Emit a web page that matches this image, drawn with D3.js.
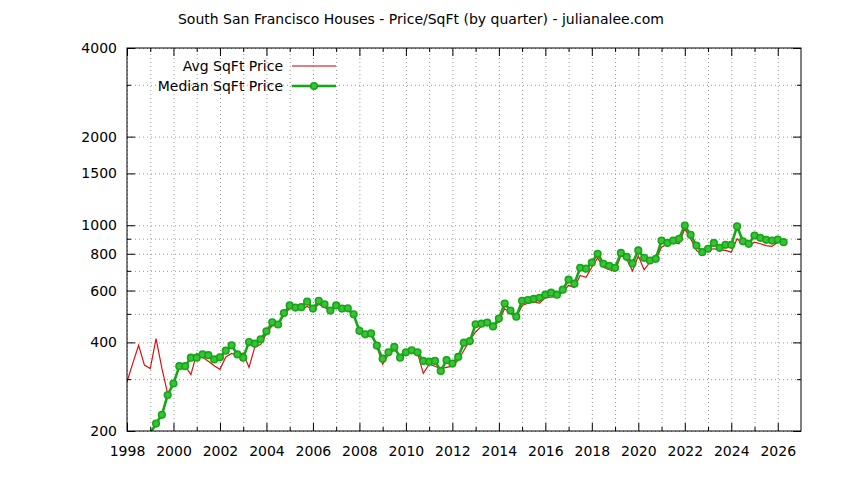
<!DOCTYPE html>
<html>
<head>
<meta charset="utf-8">
<script src="https://cdn.jsdelivr.net/npm/d3@7"></script>
<style>
  body { margin: 0; background: #fff; }
  text { font-family: "DejaVu Sans", sans-serif; font-size: 14px; fill: #000; }
</style>
</head>
<body>
<div id="chart"></div>
<script>
// chart size
var svgWidth = 844;
var svgHeight = 480;

// plot box (gnuplot style frame)
var plot = { left: 127, right: 801, top: 48, bottom: 431 };

// Data: quarterly price per sqft
var avgStartYear = 1998;
var avgPrice = [
  294, 340, 391, 335,
  326, 412, 327, 268,
  290, 331, 333, 311,
  367, 356, 345, 333,
  324, 357, 367, 362,
  368, 329, 386, 393,
  429, 457, 454, 498,
  521, 521, 518, 530,
  517, 539, 527, 511,
  527, 518, 514, 494,
  436, 429, 426, 388,
  337, 365, 376, 362,
  371, 376, 368, 314,
  337, 332, 326, 329,
  332, 348, 376, 407,
  434, 454, 461, 454,
  470, 521, 502, 486,
  534, 543, 548, 544,
  567, 570, 573, 593,
  625, 614, 675, 666,
  720, 775, 720, 706,
  698, 789, 768, 699,
  787, 706, 749, 763,
  842, 865, 876, 865,
  972, 899, 821, 795,
  825, 832, 825, 821,
  810, 899, 865, 853,
  876, 865, 853, 847,
  876, 871
];

var medianStartYear = 1999;
var medianPrice = [
  196, 212, 227, 265,
  290, 332, 332, 355,
  355, 364, 362, 350,
  356, 375, 391, 364,
  355, 401, 396, 410,
  436, 468, 460, 503,
  534, 525, 527, 550,
  521, 554, 539, 513,
  534, 521, 522, 498,
  438, 426, 429, 390,
  352, 370, 386, 355,
  370, 376, 370, 346,
  344, 346, 320, 348,
  339, 357, 399, 404,
  461, 463, 467, 453,
  482, 542, 513, 489,
  554, 557, 562, 567,
  581, 590, 581, 604,
  653, 633, 717, 712,
  747, 800, 740, 728,
  717, 805, 781, 742,
  821, 775, 759, 769,
  887, 871, 887, 899,
  997, 928, 853, 810,
  832, 871, 838, 858,
  858, 992, 882, 865,
  923, 906, 892, 887,
  894, 876
];

// tick values
var xTicksMajor = [1998, 2000, 2002, 2004, 2006, 2008, 2010, 2012, 2014, 2016, 2018, 2020, 2022, 2024, 2026];
var xTicksMinor = [1999, 2001, 2003, 2005, 2007, 2009, 2011, 2013, 2015, 2017, 2019, 2021, 2023, 2025];
var yTicksMajor = [200, 400, 600, 800, 1000, 1500, 2000, 4000];
var yTicksMinor = [300, 500, 700, 900, 3000];

var titleText = "South San Francisco Houses - Price/SqFt (by quarter) - julianalee.com";
var seriesNames = ["Avg SqFt Price", "Median SqFt Price"];

// build point lists (one point per quarter)
var avgData = avgPrice.map(function (v, i) { return { t: avgStartYear + i / 4, v: v }; });
var medianData = medianPrice.map(function (v, i) { return { t: medianStartYear + i / 4, v: v }; });

var svg = d3.select("#chart").append("svg")
  .attr("width", svgWidth)
  .attr("height", svgHeight);

// scales
var x = d3.scaleLinear().domain([1998, 2027]).range([plot.left, plot.right]);
var y = d3.scaleLog().domain([200, 4000]).range([plot.bottom, plot.top]);

var plotW = plot.right - plot.left;
var plotH = plot.bottom - plot.top;

// grid (dotted)
var allX = xTicksMajor.concat(xTicksMinor);
var allY = yTicksMajor.concat(yTicksMinor);

svg.append("g")
  .attr("class", "grid")
  .attr("transform", `translate(0, ${plot.bottom})`)
  .call(d3.axisBottom(x).tickValues(allX).tickSize(-plotH).tickFormat(""))
  .call(g => g.select(".domain").remove());

svg.append("g")
  .attr("class", "grid")
  .attr("transform", `translate(${plot.left}, 0)`)
  .call(d3.axisLeft(y).tickValues(allY).tickSize(-plotW).tickFormat(""))
  .call(g => g.select(".domain").remove());

svg.selectAll(".grid line")
  .attr("stroke", "#999")
  .attr("stroke-width", 1)
  .attr("stroke-dasharray", "1,3");

// clip for the data lines
svg.append("clipPath").attr("id", "clip")
  .append("rect")
  .attr("x", plot.left).attr("y", plot.top)
  .attr("width", plotW).attr("height", plotH);

var line = d3.line()
  .x(d => x(d.t))
  .y(d => y(d.v));

var dataG = svg.append("g").attr("clip-path", "url(#clip)");

dataG.append("path")
  .datum(avgData)
  .attr("fill", "none")
  .attr("stroke", "#dd1010")
  .attr("stroke-width", 1.2)
  .attr("d", line);

dataG.append("path")
  .datum(medianData)
  .attr("fill", "none")
  .attr("stroke", "#14a814")
  .attr("stroke-width", 2.6)
  .attr("d", line);

dataG.selectAll("circle.pt")
  .data(medianData.filter(d => d.v >= 200))
  .enter()
  .append("circle")
  .attr("class", "pt")
  .attr("cx", d => x(d.t))
  .attr("cy", d => y(d.v))
  .attr("r", 3.3)
  .attr("fill", "#3cc03c")
  .attr("stroke", "#14a814")
  .attr("stroke-width", 1.6);

// axes: ticks inward, mirrored on top and right
function styleAxis(g) {
  g.select(".domain").remove();
  g.selectAll("line").attr("stroke", "#000");
  g.selectAll("text").style("font-family", '"DejaVu Sans", sans-serif').style("font-size", "14px").attr("fill", "#000");
}

svg.append("g")
  .attr("transform", `translate(0, ${plot.bottom})`)
  .call(d3.axisBottom(x).tickValues(xTicksMajor).tickSize(-8).tickPadding(15).tickFormat(d3.format("d")))
  .call(styleAxis);
svg.append("g")
  .attr("transform", `translate(0, ${plot.bottom})`)
  .call(d3.axisBottom(x).tickValues(xTicksMinor).tickSize(-4).tickFormat(""))
  .call(styleAxis);
svg.append("g")
  .attr("transform", `translate(0, ${plot.top})`)
  .call(d3.axisTop(x).tickValues(xTicksMajor).tickSize(-8).tickFormat(""))
  .call(styleAxis);
svg.append("g")
  .attr("transform", `translate(0, ${plot.top})`)
  .call(d3.axisTop(x).tickValues(xTicksMinor).tickSize(-4).tickFormat(""))
  .call(styleAxis);

svg.append("g")
  .attr("transform", `translate(${plot.left}, 0)`)
  .call(d3.axisLeft(y).tickValues(yTicksMajor).tickSize(-8).tickPadding(10).tickFormat(d3.format("d")))
  .call(styleAxis);
svg.append("g")
  .attr("transform", `translate(${plot.left}, 0)`)
  .call(d3.axisLeft(y).tickValues(yTicksMinor).tickSize(-4).tickFormat(""))
  .call(styleAxis);
svg.append("g")
  .attr("transform", `translate(${plot.right}, 0)`)
  .call(d3.axisRight(y).tickValues(yTicksMajor).tickSize(-8).tickFormat(""))
  .call(styleAxis);
svg.append("g")
  .attr("transform", `translate(${plot.right}, 0)`)
  .call(d3.axisRight(y).tickValues(yTicksMinor).tickSize(-4).tickFormat(""))
  .call(styleAxis);

// frame
svg.append("rect")
  .attr("x", plot.left).attr("y", plot.top)
  .attr("width", plotW).attr("height", plotH)
  .attr("fill", "none")
  .attr("stroke", "#000")
  .attr("stroke-width", 1);

// title
svg.append("text")
  .attr("x", 421)
  .attr("y", 24)
  .attr("text-anchor", "middle")
  .text(titleText);

// legend
var legend = svg.append("g");
legend.append("text")
  .attr("x", 283).attr("y", 71)
  .attr("text-anchor", "end")
  .text(seriesNames[0]);
legend.append("line")
  .attr("x1", 292).attr("x2", 336)
  .attr("y1", 66).attr("y2", 66)
  .attr("stroke", "#c00000")
  .attr("stroke-width", 1);

legend.append("text")
  .attr("x", 283).attr("y", 91)
  .attr("text-anchor", "end")
  .text(seriesNames[1]);
legend.append("line")
  .attr("x1", 292).attr("x2", 336)
  .attr("y1", 86).attr("y2", 86)
  .attr("stroke", "#14a814")
  .attr("stroke-width", 2.6);
legend.append("circle")
  .attr("cx", 314).attr("cy", 86)
  .attr("r", 3.3)
  .attr("fill", "#3cc03c")
  .attr("stroke", "#14a814")
  .attr("stroke-width", 1.6);
</script>
</body>
</html>
